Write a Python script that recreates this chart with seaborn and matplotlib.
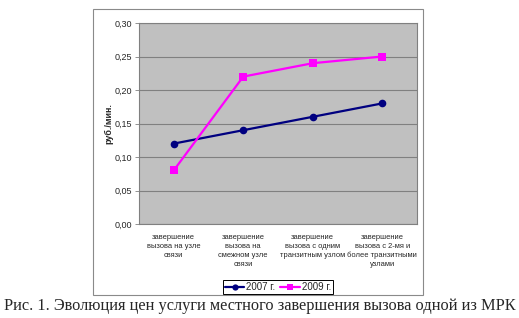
import matplotlib
matplotlib.use("Agg")
import matplotlib.pyplot as plt
import seaborn as sns
import pandas as pd
from matplotlib.patches import Rectangle
from matplotlib.lines import Line2D

categories = ["c1", "c2", "c3", "c4"]
tick_labels = [
    "завершение\nвызова на узле\nсвязи",
    "завершение\nвызова на\nсмежном узле\nсвязи",
    "завершение\nвызова с одним\nтранзитным узлом",
    "завершение\nвызова с 2-мя и\nболее транзитными\nузлами",
]
values_2007 = [0.12, 0.14, 0.16, 0.18]
values_2009 = [0.08, 0.22, 0.24, 0.25]
series_names = ["2007 г.", "2009 г."]
y_ticks = [0.00, 0.05, 0.10, 0.15, 0.20, 0.25, 0.30]

df = pd.DataFrame({
    "cat": categories * 2,
    "val": values_2007 + values_2009,
    "year": [series_names[0]] * 4 + [series_names[1]] * 4,
})

sns.set_theme(style="white")
plt.rcParams["font.family"] = ["Liberation Sans", "DejaVu Sans"]

W, H = 519, 318
fig = plt.figure(figsize=(W / 100, H / 100), dpi=100)
ax = fig.add_axes([139 / W, 1 - 224 / H, (417 - 139) / W, (224 - 23) / H])

# outer chart border
fig.patches.append(Rectangle((93 / W, 1 - 295 / H), (423 - 93) / W, (295 - 9) / H,
                             transform=fig.transFigure, fill=False,
                             edgecolor="#8a8a8a", linewidth=0.8, zorder=0))

ax.set_facecolor("#C0C0C0")
colors = {series_names[0]: "#000080", series_names[1]: "#FF00FF"}
markers = {series_names[0]: "o", series_names[1]: "s"}
sns.lineplot(data=df, x="cat", y="val", hue="year", style="year",
             palette=colors, markers=markers, dashes=False, markersize=5.5,
             markeredgewidth=0, linewidth=1.6, ax=ax, legend=False, sort=False)

ax.set_xlim(-0.5, 3.5)
ax.set_ylim(0, 0.30)
ax.set_yticks(y_ticks)
ax.set_yticklabels([f"{t:.2f}".replace(".", ",") for t in y_ticks], fontsize=6.5)
ax.yaxis.grid(True, color="#808080", linewidth=0.8)
ax.set_axisbelow(True)
ax.set_xticks(range(4))
ax.set_xticklabels(tick_labels, fontsize=5.4, va="top", linespacing=1.4)
ax.set_xticks([-0.5, 0.5, 1.5, 2.5, 3.5], minor=True)
ax.tick_params(axis="x", which="major", length=0, pad=7)
ax.tick_params(axis="x", which="minor", length=3, width=0.6, color="#808080")
ax.tick_params(axis="y", length=3, width=0.6, color="#808080", pad=2, direction="out", left=True)
ax.set_xlabel("")
ax.set_ylabel("руб./мин.", fontsize=6.5, fontweight="bold", labelpad=1)
for s in ax.spines.values():
    s.set_color("#808080")
    s.set_linewidth(0.8)

handles = [Line2D([], [], color=colors[n], marker=markers[n], markersize=4.5,
                  markeredgewidth=0, linewidth=1.6) for n in series_names]
fig.legend(handles, series_names, loc="center", bbox_to_anchor=(278 / W, 1 - 287 / H),
           ncol=2, fontsize=7, frameon=True, fancybox=False, edgecolor="black",
           handlelength=2.0, handletextpad=0.2, columnspacing=0.5, borderpad=0.25,
           framealpha=1).get_frame().set_linewidth(0.7)

fig.text(0.5, 1 - 306 / H, "Рис. 1. Эволюция цен услуги местного завершения вызова одной из МРК",
         ha="center", va="center", fontsize=11.8, family=["Liberation Serif", "DejaVu Serif"])

fig.savefig("out.png", dpi=100)
